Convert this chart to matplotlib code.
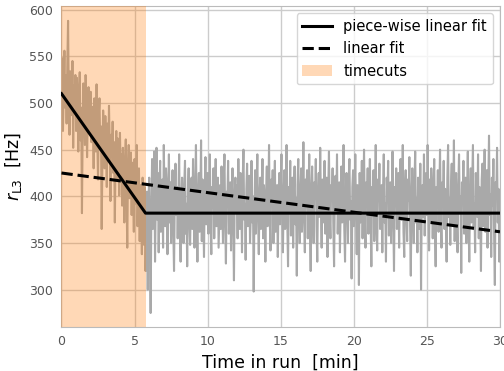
import numpy as np
import matplotlib
matplotlib.use("Agg")
import matplotlib.pyplot as plt

# rate readings, one every 0.05 min from 0 to 30 min, one row per minute
rate = [
    525, 548, 470, 512, 556, 495, 530, 478, 541, 588, 502, 466, 534, 510, 487, 545, 452, 519, 498, 530,
    470, 527, 505, 448, 512, 533, 460, 495, 382, 474, 521, 488, 455, 530, 503, 442, 486, 517, 468, 499,
    512, 458, 478, 496, 430, 505, 471, 448, 520, 463, 418, 488, 505, 452, 475, 365, 440, 492, 468, 430,
    486, 455, 410, 478, 438, 497, 452, 395, 466, 443, 480, 425, 458, 372, 447, 470, 418, 462, 434, 401,
    468, 425, 445, 390, 452, 418, 372, 440, 461, 405, 345, 430, 455, 398, 421, 447, 380, 436, 410, 362,
    440, 392, 418, 455, 368, 405, 430, 352, 412, 388, 338, 420, 395, 348, 410, 320, 372, 405, 300, 395,
    420, 352, 275, 388, 440, 365, 412, 448, 330, 398, 452, 375, 425, 340, 405, 438, 362, 390, 418, 345,
    455, 392, 368, 430, 410, 338, 400, 445, 372, 415, 350, 392, 428, 365, 320, 398, 435, 380, 410, 355,
    402, 445, 368, 330, 395, 420, 382, 350, 412, 438, 360, 392, 325, 405, 430, 375, 348, 398, 420, 365,
    440, 388, 345, 412, 455, 378, 330, 402, 425, 362, 395, 460, 352, 418, 385, 335, 408, 442, 370, 398,
    425, 360, 392, 445, 372, 338, 410, 388, 430, 355, 402, 440, 368, 395, 420, 345, 380, 412, 365, 432,
    390, 350, 418, 445, 372, 328, 405, 392, 438, 360, 385, 415, 342, 398, 430, 370, 310, 402, 420, 382,
    412, 355, 440, 388, 365, 425, 398, 340, 418, 450, 375, 392, 332, 408, 435, 368, 395, 422, 350, 380,
    438, 372, 400, 298, 385, 428, 360, 410, 445, 378, 338, 402, 420, 365, 392, 440, 355, 412, 385, 330,
    405, 432, 368, 395, 455, 375, 342, 418, 390, 428, 350, 400, 438, 362, 385, 412, 335, 398, 425, 370,
    415, 445, 380, 340, 402, 428, 365, 395, 455, 372, 325, 410, 385, 438, 358, 392, 420, 345, 405, 432,
    370, 398, 315, 412, 440, 382, 350, 405, 430, 362, 395, 458, 378, 340, 418, 392, 428, 355, 400, 445,
    365, 320, 408, 432, 385, 350, 415, 398, 440, 368, 330, 402, 425, 378, 452, 392, 345, 418, 372, 405,
    438, 360, 392, 420, 335, 405, 448, 380, 355, 412, 395, 430, 368, 325, 400, 422, 385, 445, 360, 398,
    415, 340, 388, 432, 372, 408, 455, 365, 330, 402, 425, 385, 350, 418, 440, 375, 395, 312, 410, 428,
    368, 395, 445, 380, 338, 412, 400, 305, 425, 372, 390, 438, 355, 405, 450, 378, 345, 415, 392, 430,
    360, 402, 440, 375, 325, 410, 388, 428, 352, 398, 455, 370, 342, 418, 395, 435, 365, 385, 412, 340,
    405, 445, 372, 392, 330, 420, 400, 438, 358, 385, 415, 350, 402, 448, 378, 320, 410, 392, 430, 365,
    398, 425, 345, 412, 440, 375, 390, 455, 362, 335, 408, 428, 380, 352, 418, 395, 442, 370, 315, 402,
    430, 385, 350, 415, 448, 372, 398, 340, 420, 405, 365, 435, 300, 392, 412, 378, 445, 358, 402, 425,
    380, 455, 395, 342, 418, 372, 430, 405, 355, 398, 440, 368, 325, 410, 388, 428, 362, 402, 450, 375,
    345, 415, 392, 438, 365, 408, 385, 330, 420, 455, 378, 398, 348, 412, 435, 370, 395, 460, 352, 405,
    425, 368, 340, 410, 445, 382, 400, 318, 415, 392, 438, 360, 385, 420, 350, 405, 448, 375, 330, 398,
    430, 372, 412, 455, 365, 392, 340, 425, 402, 378, 445, 355, 410, 388, 320, 418, 435, 368, 400, 450,
    362, 395, 428, 345, 412, 465, 380, 402, 335, 420, 390, 440, 358, 305, 415, 398, 452, 372, 408, 330,
    400,
]
time = np.linspace(0, 30, len(rate))

# fits
pw_t = [0, 5.75, 30]
pw_r = [510, 382, 382]
lin_t = [0, 30]
lin_r = [425, 362]

cut_start = 0
cut_end = 5.75

fig = plt.figure(figsize=(5.04, 3.71), dpi=100)
ax = fig.add_axes([0.122, 0.1186, 0.870, 0.8654])

ax.plot(time, rate, color="darkgray", lw=1.5, zorder=2)
ax.axvspan(cut_start, cut_end, color="C1", alpha=0.3, lw=0, zorder=3, label="timecuts")
ax.plot(pw_t, pw_r, color="black", lw=2.2, zorder=4, label="piece-wise linear fit")
ax.plot(lin_t, lin_r, color="black", lw=2.2, ls="--", zorder=4, label="linear fit")

ax.set_xlim(0, 30)
ax.set_ylim(260, 604)
ax.set_xticks([0, 5, 10, 15, 20, 25, 30])
ax.set_yticks([300, 350, 400, 450, 500, 550, 600])
ax.grid(True, color="#cccccc", lw=1)
ax.set_axisbelow(True)
ax.tick_params(length=0, labelsize=9, labelcolor="#555555", pad=6)
for s in ax.spines.values():
    s.set_color("#bbbbbb")

ax.set_xlabel("Time in run  [min]", fontsize=12.5)
ax.set_ylabel(r"$r_\mathrm{L3}$  [Hz]", fontsize=12.5)

h, l = ax.get_legend_handles_labels()
order = [1, 2, 0]
ax.legend([h[i] for i in order], [l[i] for i in order], loc="upper right", fontsize=10.5)

fig.savefig("out.png", dpi=100)
